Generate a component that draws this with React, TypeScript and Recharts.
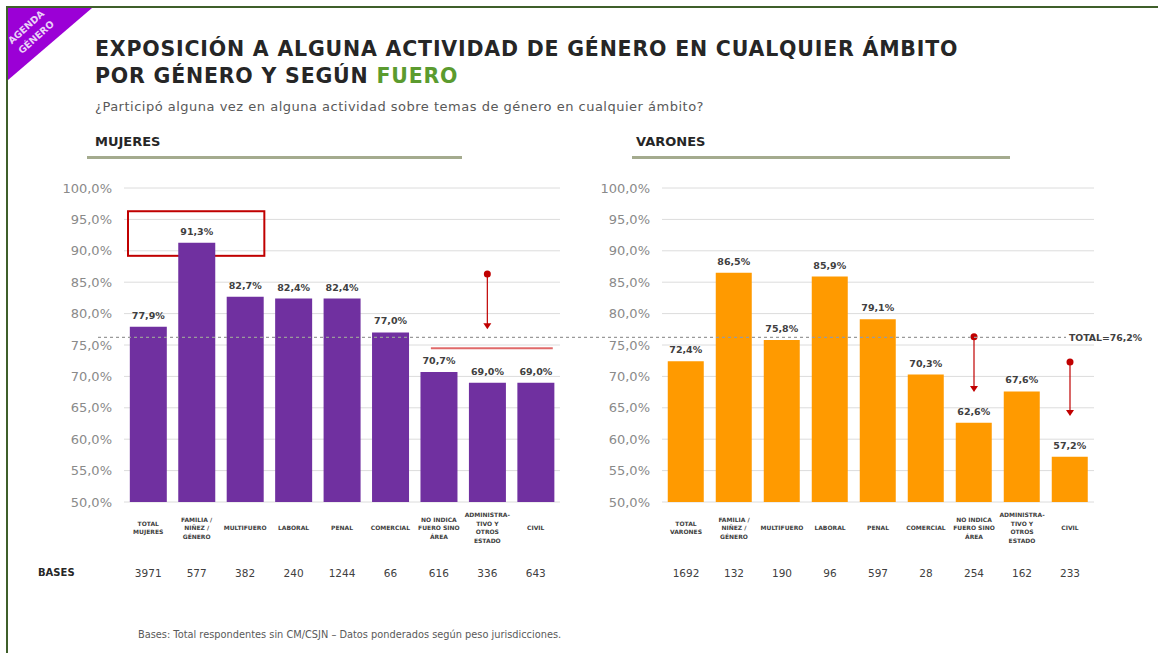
import React from "react";
import {
  Bar,
  BarChart,
  CartesianGrid,
  LabelList,
  ReferenceArea,
  ReferenceLine,
  XAxis,
  YAxis,
} from "recharts";

const CATEGORIES_MUJERES = [
  "TOTAL\nMUJERES",
  "FAMILIA /\nNIÑEZ /\nGÉNERO",
  "MULTIFUERO",
  "LABORAL",
  "PENAL",
  "COMERCIAL",
  "NO INDICA\nFUERO SINO\nÁREA",
  "ADMINISTRA-\nTIVO Y\nOTROS\nESTADO",
  "CIVIL",
];
const CATEGORIES_VARONES = [
  "TOTAL\nVARONES",
  "FAMILIA /\nNIÑEZ /\nGÉNERO",
  "MULTIFUERO",
  "LABORAL",
  "PENAL",
  "COMERCIAL",
  "NO INDICA\nFUERO SINO\nÁREA",
  "ADMINISTRA-\nTIVO Y\nOTROS\nESTADO",
  "CIVIL",
];
const MUJERES = [77.9, 91.3, 82.7, 82.4, 82.4, 77.0, 70.7, 69.0, 69.0];
const VARONES = [72.4, 86.5, 75.8, 85.9, 79.1, 70.3, 62.6, 67.6, 57.2];
const BASES_MUJERES = [3971, 577, 382, 240, 1244, 66, 616, 336, 643];
const BASES_VARONES = [1692, 132, 190, 96, 597, 28, 254, 162, 233];
const Y_TICKS = [50, 55, 60, 65, 70, 75, 80, 85, 90, 95, 100];
const TOTAL = 76.2;

// annotations: [category index, from %, to %]
const ARROWS_MUJERES = [[7, 86.3, 77.5]];
const ARROWS_VARONES = [
  [6, 76.3, 67.5],
  [8, 72.3, 63.7],
];
const HIGHLIGHT_BOX = [0, 2, 89.2, 96.3];
const RED_RULE = [6, 8, 74.5];

const W = 1158;
const H = 653;
const FONT = "DejaVu Sans";

const pct = (v: number) => v.toFixed(1).replace(".", ",") + "%";

function CategoryTick(props: any) {
  const { x, y, payload } = props;
  const lines = String(payload.value).split("\n");
  const lh = 8.5;
  const top = y + 25 - ((lines.length - 1) * lh) / 2;
  return (
    <text
      x={x}
      y={top}
      textAnchor="middle"
      dominantBaseline="central"
      fontSize={6}
      fontWeight="bold"
      fill="#404040"
      fontFamily={FONT}
    >
      {lines.map((l, i) => (
        <tspan key={i} x={x} y={top + i * lh}>
          {l}
        </tspan>
      ))}
    </text>
  );
}

function BaseTick(props: any) {
  const { x, y, payload } = props;
  return (
    <text
      x={x}
      y={y + 21}
      textAnchor="middle"
      dominantBaseline="central"
      fontSize={10.5}
      fill="#404040"
      fontFamily={FONT}
    >
      {payload.value}
    </text>
  );
}

function Arrow(props: any) {
  const { x1, y1, x2, y2 } = props;
  return (
    <g>
      <line x1={x1} y1={y1} x2={x2} y2={y2 - 5} stroke="#c00000" strokeWidth={1.2} />
      <circle cx={x1} cy={y1} r={3.5} fill="#c00000" />
      <path d={`M${x2 - 4},${y2 - 6} L${x2 + 4},${y2 - 6} L${x2},${y2} Z`} fill="#c00000" />
    </g>
  );
}

function Panel({
  categories,
  values,
  bases,
  color,
  margin,
  arrows,
  children,
}: {
  categories: string[];
  values: number[];
  bases: number[];
  color: string;
  margin: { top: number; right: number; bottom: number; left: number };
  arrows: number[][];
  children?: React.ReactNode;
}) {
  const data = categories.map((c, i) => ({
    cat: c,
    value: values[i],
    base: String(bases[i]),
  }));
  return (
    <div style={{ position: "absolute", left: 0, top: 0 }}>
      <BarChart width={W} height={H} data={data} margin={margin} barCategoryGap="12%">
        <CartesianGrid vertical={false} stroke="#dcdcdc" />
        <XAxis
          dataKey="cat"
          axisLine={false}
          tickLine={false}
          tickSize={0}
          tickMargin={0}
          height={50}
          interval={0}
          tick={<CategoryTick />}
        />
        <XAxis
          xAxisId="b"
          dataKey="base"
          axisLine={false}
          tickLine={false}
          tickSize={0}
          tickMargin={0}
          height={30}
          interval={0}
          tick={<BaseTick />}
        />
        <YAxis
          domain={[50, 100]}
          ticks={Y_TICKS}
          width={60}
          axisLine={false}
          tickLine={false}
          tickMargin={6}
          tickFormatter={pct}
          tick={{ fontSize: 13, fill: "#8a8a8a", fontFamily: FONT }}
        />
        <Bar dataKey="value" fill={color} isAnimationActive={false}>
          <LabelList
            dataKey="value"
            position="top"
            offset={8}
            formatter={(v: any) => pct(Number(v))}
            fill="#404040"
            fontSize={9.5}
            fontWeight="bold"
            fontFamily={FONT}
          />
        </Bar>
        {arrows.map(([idx, from, to], i) => (
          <ReferenceLine
            key={i}
            segment={[
              { x: categories[idx], y: from },
              { x: categories[idx], y: to },
            ]}
            shape={<Arrow />}
          />
        ))}
        {children}
      </BarChart>
    </div>
  );
}

export default function App() {
  return (
    <div
      style={{
        position: "absolute",
        left: 0,
        top: 0,
        width: W,
        height: H,
        background: "#fff",
        fontFamily: FONT,
        overflow: "hidden",
      }}
    >
      {/* frame */}
      <div
        style={{
          position: "absolute",
          left: 6,
          top: 6,
          right: 0,
          bottom: -4,
          borderTop: "2px solid #3f5f2a",
          borderLeft: "2px solid #3f5f2a",
        }}
      />
      {/* badge */}
      <svg width={100} height={100} style={{ position: "absolute", left: 0, top: 0 }}>
        <polygon points="8,8 92,8 8,80" fill="#9b00d6" />
        <text
          x={26}
          y={27}
          transform="rotate(-42 26 27)"
          textAnchor="middle"
          dominantBaseline="central"
          fontSize={9.5}
          fontWeight="bold"
          fill="#ead2f7"
          fontFamily={FONT}
        >
          AGENDA
        </text>
        <text
          x={36}
          y={37}
          transform="rotate(-42 36 37)"
          textAnchor="middle"
          dominantBaseline="central"
          fontSize={9.5}
          fontWeight="bold"
          fill="#ead2f7"
          fontFamily={FONT}
        >
          GÉNERO
        </text>
      </svg>

      <Panel
        categories={CATEGORIES_MUJERES}
        values={MUJERES}
        bases={BASES_MUJERES}
        color="#7030a0"
        margin={{ top: 188, right: 598, bottom: 71, left: 64 }}
        arrows={ARROWS_MUJERES}
      >
        <ReferenceArea
          x1={CATEGORIES_MUJERES[HIGHLIGHT_BOX[0]]}
          x2={CATEGORIES_MUJERES[HIGHLIGHT_BOX[1]]}
          y1={HIGHLIGHT_BOX[2]}
          y2={HIGHLIGHT_BOX[3]}
          shape={(p: any) => (
            <rect
              x={p.x + 4}
              y={p.y}
              width={p.width - 9}
              height={p.height}
              fill="none"
              stroke="#c00000"
              strokeWidth={2}
            />
          )}
        />
        <ReferenceLine
          segment={[
            { x: CATEGORIES_MUJERES[RED_RULE[0]], y: RED_RULE[2] },
            { x: CATEGORIES_MUJERES[RED_RULE[1]], y: RED_RULE[2] },
          ]}
          shape={(p: any) => (
            <line x1={p.x1 - 8} y1={p.y1} x2={p.x2 + 17} y2={p.y2} stroke="#e06a6a" strokeWidth={2} />
          )}
        />
      </Panel>

      <Panel
        categories={CATEGORIES_VARONES}
        values={VARONES}
        bases={BASES_VARONES}
        color="#ff9a00"
        margin={{ top: 188, right: 64, bottom: 71, left: 602 }}
        arrows={ARROWS_VARONES}
      >
        <ReferenceLine
          y={TOTAL}
          shape={(p: any) => (
            <g>
              <line
                x1={98}
                y1={p.y1}
                x2={1066}
                y2={p.y1}
                stroke="#9a9a9a"
                strokeWidth={1.3}
                strokeDasharray="3 3"
              />
              <text
                x={1069}
                y={p.y1}
                dominantBaseline="central"
                fontSize={9.3}
                fontWeight="bold"
                fill="#404040"
                fontFamily={FONT}
              >
                {"TOTAL=" + pct(TOTAL)}
              </text>
            </g>
          )}
        />
      </Panel>

      {/* titles */}
      <div
        style={{
          position: "absolute",
          left: 95,
          top: 36,
          fontSize: 20.5,
          fontWeight: "bold",
          letterSpacing: 0.8,
          lineHeight: "27px",
          color: "#262626",
          whiteSpace: "nowrap",
        }}
      >
        EXPOSICIÓN A ALGUNA ACTIVIDAD DE GÉNERO EN CUALQUIER ÁMBITO
        <br />
        POR GÉNERO Y SEGÚN <span style={{ color: "#5b9b2f" }}>FUERO</span>
      </div>
      <div
        style={{
          position: "absolute",
          left: 95,
          top: 99,
          fontSize: 13,
          letterSpacing: 0.5,
          color: "#595959",
          whiteSpace: "nowrap",
        }}
      >
        ¿Participó alguna vez en alguna actividad sobre temas de género en cualquier ámbito?
      </div>

      {/* panel headers */}
      <div
        style={{
          position: "absolute",
          left: 95,
          top: 134,
          fontSize: 13,
          fontWeight: "bold",
          color: "#262626",
        }}
      >
        MUJERES
      </div>
      <div style={{ position: "absolute", left: 87, top: 156, width: 375, height: 3, background: "#a4ab8e" }} />
      <div
        style={{
          position: "absolute",
          left: 636,
          top: 134,
          fontSize: 13,
          fontWeight: "bold",
          color: "#262626",
        }}
      >
        VARONES
      </div>
      <div style={{ position: "absolute", left: 632, top: 156, width: 378, height: 3, background: "#a4ab8e" }} />

      <div
        style={{
          position: "absolute",
          left: 38,
          top: 567,
          fontSize: 10,
          fontWeight: "bold",
          color: "#262626",
        }}
      >
        BASES
      </div>

      <div
        style={{
          position: "absolute",
          left: 138,
          top: 629,
          fontSize: 9.8,
          color: "#595959",
          whiteSpace: "nowrap",
        }}
      >
        Bases: Total respondentes sin CM/CSJN – Datos ponderados según peso jurisdicciones.
      </div>
    </div>
  );
}
